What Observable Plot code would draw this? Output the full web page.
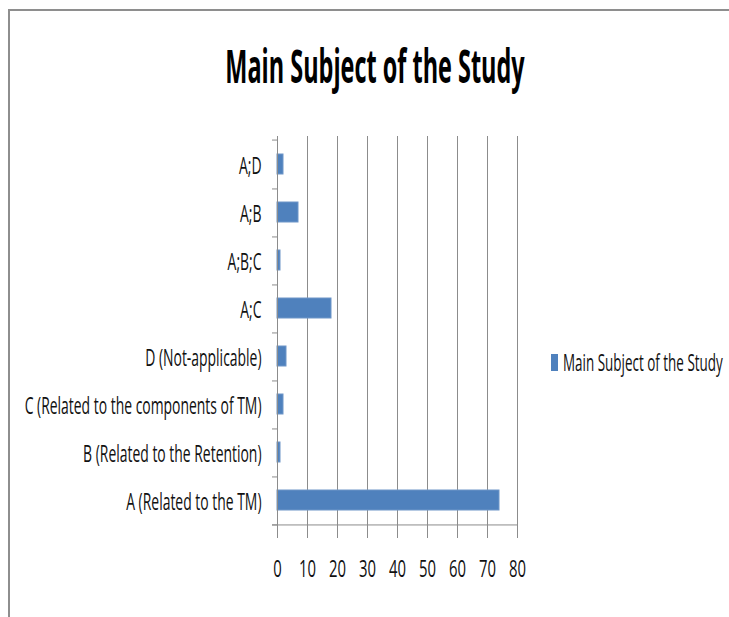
<!DOCTYPE html>
<html>
<head>
<meta charset="utf-8">
<script src="https://cdn.jsdelivr.net/npm/d3@7"></script>
<script src="https://cdn.jsdelivr.net/npm/@observablehq/plot@0.6"></script>
<style>
  html, body { margin: 0; padding: 0; background: #fff; overflow: hidden; }
  #page { position: relative; width: 729px; height: 617px; overflow: hidden; font-family: "Open Sans", sans-serif; }
  #title, #chart svg { display: block; }
  #legend { position: absolute; left: 0; top: 0; }
  #frame { position: absolute; left: 8px; top: 9px; width: 760px; height: 640px;
           border-top: 2px solid #8e8e8e; border-left: 2px solid #8e8e8e; }
</style>
</head>
<body>
<div id="page">
  <svg id="title" width="729" height="120"></svg>
  <div id="chart"></div>
  <svg id="legend" width="729" height="617"></svg>
  <div id="frame"></div>
</div>
<script>
// Study counts by main subject, listed top to bottom as drawn
const chartTitle = "Main Subject of the Study";
const seriesName = "Main Subject of the Study";
const categories = [
  "A;D",
  "A;B",
  "A;B;C",
  "A;C",
  "D (Not-applicable)",
  "C (Related to the components of TM)",
  "B (Related to the Retention)",
  "A (Related to the TM)"
];
const counts = [2, 7, 1, 18, 3, 2, 1, 74];
const xTicks = [0, 10, 20, 30, 40, 50, 60, 70, 80];

const barColor = "#4F81BD";
const axisGray = "#8c8c8c";
const textColor = "#111";
const font = "'Open Sans', sans-serif";

// narrow Plot's labels by compressing their advance width
function squeezeLength(nodes, k) {
  nodes.forEach(t => {
    const len = t.getComputedTextLength();
    t.setAttribute("textLength", (len * k).toFixed(1));
    t.setAttribute("lengthAdjust", "spacingAndGlyphs");
  });
}

// text placed through a transform so it can be scaled around its anchor
function narrowText(parent, x, y, k, str) {
  return parent.append("text")
    .attr("transform", `translate(${x},${y}) scale(${k},1)`)
    .text(str);
}

// title
const titleSvg = d3.select("#title");
narrowText(titleSvg, 375, 83, 0.51, chartTitle)
  .attr("text-anchor", "middle")
  .attr("font-family", font).attr("font-size", 46).attr("font-weight", 700)
  .attr("fill", "#000");

// chart
const W = 729, H = 497, mT = 16, mB = 90, mL = 277, mR = 212;
const step = (H - mT - mB) / categories.length;
const rows = categories.map((c, i) => ({category: c, value: counts[i]}));

const chart = Plot.plot({
  width: W, height: H,
  marginTop: mT, marginBottom: mB, marginLeft: mL, marginRight: mR,
  style: {background: "transparent", fontFamily: font, color: textColor},
  x: {domain: [0, 80], axis: null},
  y: {domain: categories, axis: null, paddingInner: 0.59, paddingOuter: 0.295},
  marks: [
    // gridlines that continue below the plot as tick marks
    Plot.ruleX(xTicks, {stroke: axisGray, insetBottom: -11}),
    Plot.barX(rows, {x: "value", y: "category", fill: barColor, stroke: "#6f96c8", strokeWidth: 1}),
    // category boundary ticks on the value axis
    Plot.ruleY(categories, {y: d => d, x1: 0, x2: 0, insetLeft: -5, dy: step / 2, stroke: axisGray}),
    Plot.ruleY(categories.slice(0, 1), {y: d => d, x1: 0, x2: 0, insetLeft: -5, dy: -step / 2, stroke: axisGray}),
    // bottom axis line
    Plot.ruleY(categories.slice(-1), {y: d => d, x1: 0, x2: 80, insetLeft: -5, dy: step / 2, stroke: axisGray}),
    // vertical axis line
    Plot.ruleX([0], {stroke: axisGray, insetBottom: -11}),
    // category labels
    Plot.text(categories, {text: d => d, y: d => d, frameAnchor: "left", textAnchor: "end",
      dx: -16, dy: 2, fontSize: 24, fill: textColor}),
    // value tick labels
    Plot.text(xTicks, {text: d => String(d), x: d => d, frameAnchor: "bottom",
      dy: 49, fontSize: 24, fill: textColor})
  ]
});
document.getElementById("chart").appendChild(chart);

const chartTexts = Array.from(chart.querySelectorAll("text"));
squeezeLength(chartTexts.filter(t => isNaN(+t.textContent)), 0.58);
squeezeLength(chartTexts.filter(t => !isNaN(+t.textContent)), 0.62);

// legend
const legend = d3.select("#legend");
legend.append("rect")
  .attr("x", 551).attr("y", 354).attr("width", 7).attr("height", 17)
  .attr("fill", barColor);
narrowText(legend, 563, 370.5, 0.585, seriesName)
  .attr("font-family", font).attr("font-size", 23)
  .attr("fill", textColor);
</script>
</body>
</html>
